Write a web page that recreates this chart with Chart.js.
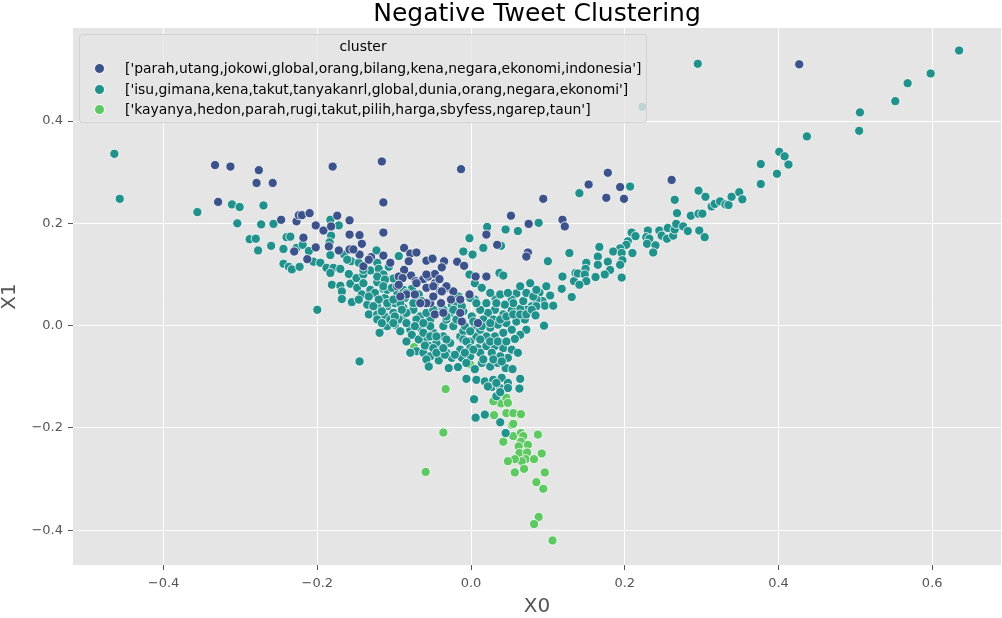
<!DOCTYPE html>
<html>
<head>
<meta charset="utf-8">
<script src="https://cdn.jsdelivr.net/npm/chart.js@4.4.1/dist/chart.umd.min.js"></script>
<style>
  html,body{margin:0;padding:0;background:#fff;}
  #wrap{position:relative;width:1002px;height:618px;}
  #legend{position:absolute;left:79px;top:34px;width:568px;height:89px;box-sizing:border-box;
    background:rgba(229,229,229,0.8);border:1px solid rgba(204,204,204,0.8);border-radius:4px;
    font-family:'DejaVu Sans',sans-serif;font-size:13.9px;color:#000;}
  #legend .ttl{position:absolute;left:0;right:0;top:2px;height:18px;line-height:18px;text-align:center;}
  #legend .row{position:absolute;left:0;height:18px;line-height:18px;white-space:nowrap;}
  #legend .dot{position:absolute;left:14px;top:4px;width:9px;height:9px;border-radius:50%;border:0.8px solid #fff;}
  #legend .txt{position:absolute;left:45px;top:0;}
</style>
</head>
<body>
<div id="wrap">
  <canvas id="c" width="1002" height="618"></canvas>
  <div id="legend"></div>
</div>
<script>
// ---- data ----
const TITLE = 'Negative Tweet Clustering';
const X_LABEL = 'X0';
const Y_LABEL = 'X1';
const LEGEND_TITLE = 'cluster';
const CLUSTERS = [
  "['parah,utang,jokowi,global,orang,bilang,kena,negara,ekonomi,indonesia']",
  "['isu,gimana,kena,takut,tanyakanrl,global,dunia,orang,negara,ekonomi']",
  "['kayanya,hedon,parah,rugi,takut,pilih,harga,sbyfess,ngarep,taun']"
];
const COLORS = ['#3b528b', '#21918c', '#5ec962'];
const X_TICKS = [-0.4, -0.2, 0.0, 0.2, 0.4, 0.6];
const Y_TICKS = [-0.4, -0.2, 0.0, 0.2, 0.4];
const X_RANGE = [-0.5178, 0.6895];
const Y_RANGE = [-0.468, 0.582];

const C0 = [
  [-0.333,0.314],[-0.313,0.311],[-0.276,0.304],[-0.279,0.279],[-0.258,0.279],[-0.329,0.242],[-0.180,0.311],[-0.116,0.321],[-0.114,0.241],[-0.114,0.182],
  [-0.247,0.207],[-0.227,0.204],[-0.224,0.216],[-0.220,0.216],[-0.210,0.220],[-0.202,0.196],[-0.192,0.186],[-0.182,0.194],[-0.174,0.215],[-0.158,0.206],
  [-0.158,0.178],[-0.145,0.177],[-0.142,0.160],[-0.218,0.172],[-0.230,0.145],[-0.202,0.153],[-0.213,0.130],[-0.185,0.155],[-0.172,0.147],[-0.145,0.139],
  [-0.158,0.149],[-0.130,0.134],[-0.140,0.116],[-0.114,0.137],[-0.105,0.123],[-0.153,0.149],[-0.133,0.129],[-0.087,0.152],[-0.079,0.141],[-0.071,0.143],
  [-0.081,0.126],[-0.058,0.127],[-0.050,0.131],[-0.035,0.126],[-0.018,0.125],[-0.009,0.117],[-0.087,0.109],[-0.094,0.096],[-0.078,0.098],[-0.089,0.093],
  [-0.072,0.087],[-0.062,0.091],[-0.056,0.096],[-0.047,0.101],[-0.047,0.083],[-0.038,0.113],[-0.041,0.091],[-0.031,0.074],[-0.023,0.067],[-0.040,0.068],
  [-0.058,0.074],[-0.053,0.044],[-0.039,0.044],[-0.084,0.061],[-0.047,0.022],[-0.036,0.025],[-0.012,0.008],[0.009,0.005],[-0.096,0.077],[0.020,0.096],
  [0.006,0.096],[-0.058,0.100],[-0.032,0.077],[-0.049,0.077],[-0.094,0.080],[-0.071,0.083],[-0.038,0.067],[-0.026,0.051],[-0.014,0.051],[-0.058,0.044],
  [-0.049,0.057],[-0.014,0.025],[-0.002,0.061],[-0.092,0.057],[-0.073,0.061],[-0.066,0.044],[-0.013,0.306],[0.094,0.248],[0.052,0.215],[0.075,0.199],
  [0.119,0.207],[0.122,0.194],[0.020,0.178],[0.034,0.158],[0.074,0.143],[0.072,0.135],[-0.038,0.114],[0.153,0.276],[0.178,0.299],[0.194,0.271],
  [0.176,0.250],[0.199,0.248],[0.261,0.285],[0.427,0.511]
];

const C1 = [
  // left arm
  [-0.464,0.336],[-0.457,0.248],[-0.356,0.222],[-0.311,0.237],[-0.301,0.232],[-0.270,0.235],[-0.304,0.200],[-0.273,0.198],[-0.257,0.199],[-0.288,0.169],
  [-0.280,0.170],[-0.277,0.147],[-0.260,0.156],[-0.240,0.173],[-0.235,0.174],[-0.244,0.150],[-0.227,0.152],[-0.219,0.158],[-0.211,0.146],[-0.244,0.121],
  [-0.237,0.115],[-0.233,0.110],[-0.223,0.115],[-0.205,0.125],[-0.196,0.123],[-0.188,0.113],[-0.200,0.031],[-0.183,0.207],[-0.172,0.196],[-0.182,0.176],
  [-0.184,0.163],[-0.183,0.138],[-0.145,-0.070],[-0.119,-0.014],[-0.111,-0.001],[-0.165,0.139],[-0.156,0.126],[-0.146,0.123],[-0.123,0.147],[-0.122,0.123],
  [-0.107,0.115],[-0.094,0.136],[-0.179,0.113],[-0.170,0.111],[-0.159,0.101],[-0.183,0.103],[-0.181,0.080],[-0.170,0.078],[-0.168,0.067],[-0.168,0.052],
  [-0.157,0.082],[-0.149,0.093],[-0.140,0.100],[-0.131,0.108],[-0.120,0.111],[-0.114,0.100],[-0.101,0.092],[-0.148,0.074],[-0.140,0.083],[-0.131,0.070],
  [-0.122,0.085],[-0.142,0.061],[-0.155,0.046],[-0.146,0.051],[-0.135,0.041],[-0.125,0.064],[-0.114,0.072],[-0.112,0.054],[-0.122,0.038],[-0.133,0.022],
  [-0.122,0.022],[-0.112,0.018],[-0.122,0.012],[-0.109,0.038],[-0.099,0.044],[-0.096,0.064],[-0.086,0.054],[-0.088,0.035],[-0.075,0.031],[-0.077,0.072],
  [-0.068,0.061],[-0.064,0.048],[-0.101,0.025],[-0.088,0.018],[-0.099,0.002],[-0.109,-0.001],[-0.079,-0.008],[-0.066,0.018],[-0.066,-0.004],[-0.053,0.012],
  [-0.040,0.028],[-0.027,0.025],[-0.025,0.041],[-0.016,0.057],[-0.019,0.038],[-0.010,0.028],[0.001,0.018],[0.005,0.051],[-0.001,0.054],[-0.002,0.171],
  [-0.010,0.145],[0.002,0.139],[-0.002,0.100],[0.005,0.083],[-0.058,-0.027],[-0.042,-0.040],[-0.027,-0.034],[-0.014,-0.021],[-0.001,-0.031],[-0.010,-0.011],
  [0.007,-0.021],[-0.077,-0.018],[-0.068,-0.027],[-0.062,-0.014],[-0.049,-0.014],[-0.036,-0.021],[-0.053,-0.001],[-0.036,-0.001],[-0.023,-0.001],[-0.084,-0.031],
  [-0.071,-0.050],[-0.053,-0.040],[-0.014,-0.047],[-0.025,-0.057],
  [-0.161,0.129],[-0.140,0.109],[-0.122,0.096],[-0.112,0.090],[-0.133,0.057],[-0.120,0.051],[-0.109,0.070],[-0.088,0.070],[-0.073,0.048],[-0.092,0.044],
  [-0.084,0.025],[-0.071,0.012],[-0.058,0.025],[-0.049,0.031],[-0.032,0.012],[-0.019,0.012],[-0.008,-0.001],[0.005,-0.001],[-0.010,-0.027],[-0.053,-0.021],
  [-0.045,-0.034],[-0.032,-0.053],[-0.062,-0.053],[-0.079,-0.053],[-0.053,-0.060],[-0.001,-0.057],[-0.116,0.028],[-0.105,0.012],[-0.094,0.012],[-0.084,0.005],
  [-0.073,-0.001],[-0.062,0.005],[-0.116,0.005],[-0.127,0.038],[-0.032,0.018],[-0.099,0.018],[-0.090,0.031],[-0.036,0.031],[-0.023,0.031],[-0.012,0.038],
  [-0.109,0.044],[-0.101,0.051],[-0.114,0.077],[-0.103,0.074],[-0.084,0.064],[-0.075,0.044],
  // centre
  [0.037,0.103],[0.042,0.098],[0.059,0.063],[0.053,0.051],[0.032,0.052],[0.098,0.077],[0.089,0.065],[0.103,0.059],[0.119,0.096],[0.118,0.072],
  [0.131,0.056],[0.136,0.103],[0.134,0.087],[0.093,0.048],[0.085,0.044],[0.079,0.038],[0.096,0.039],[0.107,0.039],[0.072,0.031],[0.064,0.033],
  [0.053,0.030],[0.042,0.022],[0.031,0.031],[0.022,0.025],[0.029,0.012],[0.016,0.012],[0.003,0.008],[-0.001,-0.011],[0.012,-0.008],[0.025,-0.004],
  [0.035,0.002],[0.046,0.005],[0.059,0.008],[0.070,0.012],[0.072,-0.008],[0.095,0.000],[0.064,-0.018],[0.057,-0.026],[0.053,-0.008],[0.042,-0.014],
  [0.031,-0.021],[0.020,-0.021],[-0.006,-0.031],[-0.032,-0.027],[-0.045,-0.021],[-0.092,-0.011],[-0.101,0.005],[-0.060,-0.039],[-0.049,-0.044],[-0.001,-0.044],
  [0.009,-0.044],[0.020,-0.040],[0.031,-0.040],[0.042,-0.044],[0.053,-0.047],[0.048,-0.063],[0.061,-0.053],[0.038,-0.060],[0.027,-0.053],[0.012,-0.053],
  [-0.001,-0.060],[-0.012,-0.063],[-0.025,-0.063],[-0.058,-0.066],[-0.055,-0.080],[-0.042,-0.068],[-0.029,-0.083],[-0.017,-0.081],[-0.006,-0.073],[0.005,-0.085],
  [0.014,-0.073],[0.025,-0.080],[0.035,-0.073],[0.045,-0.083],[0.054,-0.085],[-0.006,-0.104],[0.007,-0.106],[0.018,-0.109],[0.029,-0.106],[0.040,-0.102],
  [0.048,-0.112],[0.064,-0.104],[0.027,-0.120],[0.038,-0.122],[0.048,-0.122],[0.063,-0.123],[0.004,-0.144],[0.033,-0.138],[0.006,-0.180],[0.018,-0.174],
  [0.022,-0.119],[0.033,-0.112],[0.038,-0.130],[0.038,-0.189],[0.045,-0.210],[0.021,0.193],[0.045,0.188],[0.061,0.185],[0.088,0.201],[0.016,0.152],
  [0.039,0.156],[-0.051,0.132],
  [0.012,-0.027],[0.025,-0.031],[0.035,-0.031],[0.046,-0.031],[0.016,-0.066],[0.029,-0.066],[0.040,-0.070],[0.003,-0.047],[-0.008,-0.053],[-0.021,-0.057],
  [-0.034,-0.057],[-0.045,-0.053],[-0.036,-0.044],[0.014,-0.001],[0.025,0.005],[0.038,0.012],[0.046,0.018],[0.055,0.022],[0.064,0.022],[0.072,0.022],
  [0.081,0.031],[0.085,0.051],[0.068,0.048],[0.055,0.044],[0.044,0.041],[0.033,0.044],[0.038,0.061],[0.048,0.064],[0.072,0.064],[0.081,0.057],
  [0.064,0.077],[0.077,0.083],[0.085,0.070],[0.012,0.031],[0.007,0.044],[0.020,0.044],[0.025,0.064],[0.014,0.074],
  // right arm
  [0.141,0.259],[0.207,0.272],[0.100,0.126],[0.128,0.142],[0.167,0.154],[0.209,0.182],[0.214,0.175],[0.230,0.186],[0.228,0.173],[0.232,0.170],
  [0.229,0.160],[0.240,0.157],[0.237,0.143],[0.245,0.186],[0.248,0.176],[0.255,0.170],[0.256,0.191],[0.263,0.176],[0.265,0.188],[0.267,0.199],
  [0.276,0.194],[0.282,0.185],[0.297,0.186],[0.304,0.173],[0.286,0.215],[0.296,0.219],[0.301,0.219],[0.268,0.220],[0.265,0.246],[0.296,0.264],
  [0.305,0.252],[0.313,0.233],[0.317,0.238],[0.324,0.243],[0.331,0.237],[0.335,0.236],[0.339,0.252],[0.349,0.261],[0.353,0.247],[0.377,0.316],
  [0.377,0.277],[0.398,0.297],[0.401,0.340],[0.408,0.331],[0.413,0.315],[0.437,0.370],[0.295,0.512],[0.506,0.417],[0.505,0.381],[0.552,0.439],
  [0.568,0.474],[0.598,0.493],[0.635,0.538],[0.223,0.428],[0.204,0.165],[0.202,0.158],[0.194,0.151],[0.185,0.145],[0.196,0.142],[0.210,0.142],
  [0.165,0.135],[0.178,0.125],[0.197,0.128],[0.194,0.119],[0.165,0.119],[0.181,0.109],[0.174,0.100],[0.162,0.095],[0.196,0.094],[0.150,0.123],
  [0.149,0.111],[0.139,0.102],[0.148,0.100],[0.150,0.087],[0.141,0.080],[0.085,0.038],[0.079,0.031],[0.084,0.020]
];

const C2 = [
  [-0.033,-0.124],[-0.036,-0.209],[-0.059,-0.286],[0.030,-0.175],[0.039,-0.152],[0.046,-0.141],[0.048,-0.151],[0.046,-0.171],[0.055,-0.171],[0.065,-0.173],
  [0.053,-0.194],[0.055,-0.192],[0.042,-0.227],[0.055,-0.216],[0.065,-0.210],[0.068,-0.216],[0.065,-0.227],[0.074,-0.233],[0.087,-0.213],[0.062,-0.236],
  [0.063,-0.249],[0.073,-0.248],[0.071,-0.261],[0.066,-0.265],[0.057,-0.261],[0.048,-0.265],[0.082,-0.261],[0.092,-0.250],[0.069,-0.280],[0.057,-0.287],
  [0.096,-0.287],[0.085,-0.306],[0.094,-0.319],[0.088,-0.374],[0.082,-0.388],[0.106,-0.420],[-0.074,-0.042],[0.029,-0.148],[-0.001,-0.076]
];

const SERIES = [C0, C1, C2];

// ---- legend (html, sits over the plot like the matplotlib one) ----
const lg = document.getElementById('legend');
lg.innerHTML = '<div class="ttl">' + LEGEND_TITLE + '</div>' +
  CLUSTERS.map((name, i) => `<div class="row" style="top:${24 + i*20.5}px"><span class="dot" style="background:${COLORS[i]}"></span><span class="txt">${name}</span></div>`).join('');

// ---- plugins ----
const plotBg = {
  id: 'plotBg',
  beforeDraw(chart){
    const {ctx, chartArea:a} = chart;
    ctx.save();
    ctx.fillStyle = '#e5e5e5';
    ctx.fillRect(a.left, a.top, a.right - a.left, a.bottom - a.top);
    ctx.restore();
  }
};
const titleText = {
  id: 'titleText',
  afterDraw(chart){
    const {ctx, chartArea:a} = chart;
    ctx.save();
    ctx.fillStyle = '#000';
    ctx.font = '25px "DejaVu Sans"';
    ctx.textAlign = 'center';
    ctx.textBaseline = 'alphabetic';
    ctx.fillText(TITLE, (a.left + a.right) / 2, 20.5);
    ctx.restore();
  }
};

const fmt = v => (v < 0 ? '\u2212' : '') + Math.abs(v).toFixed(1);
const tickFont = {family:'DejaVu Sans', size:13};

new Chart(document.getElementById('c'), {
  type: 'scatter',
  data: {
    datasets: SERIES.map((pts, i) => ({
      label: CLUSTERS[i],
      data: pts.map(p => ({x:p[0], y:p[1]})),
      backgroundColor: COLORS[i],
      borderColor: '#ffffff',
      borderWidth: 0.8,
      pointRadius: 4.6,
      pointHoverRadius: 4.6
    }))
  },
  options: {
    responsive: false,
    animation: false,
    events: [],
    layout: {autoPadding: false, padding: {top: 28, right: 1, left: 0, bottom: 0}},
    plugins: {legend: {display: false}, tooltip: {enabled: false}, title: {display: false}},
    scales: {
      x: {
        type: 'linear', min: X_RANGE[0], max: X_RANGE[1],
        afterBuildTicks: s => { s.ticks = X_TICKS.map(v => ({value: v})); },
        afterFit: s => { s.height = 53; },
        grid: {color: '#ffffff', lineWidth: 1, tickColor: '#555555', tickLength: 5, tickWidth: 1},
        border: {display: false},
        ticks: {color: '#555555', font: tickFont, padding: 5.5, callback: fmt, maxRotation: 0},
        title: {display: true, text: X_LABEL, color: '#555555', font: {family:'DejaVu Sans', size: 20, lineHeight: 1.1}, padding: 0}
      },
      y: {
        type: 'linear', min: Y_RANGE[0], max: Y_RANGE[1],
        afterBuildTicks: s => { s.ticks = Y_TICKS.map(v => ({value: v})); },
        afterFit: s => { s.width = 73; },
        grid: {color: '#ffffff', lineWidth: 1, tickColor: '#555555', tickLength: 5, tickWidth: 1},
        border: {display: false},
        ticks: {color: '#555555', font: tickFont, padding: 5, callback: fmt},
        title: {display: true, text: Y_LABEL, color: '#555555', font: {family:'DejaVu Sans', size: 20, lineHeight: 1.0}, padding: 0}
      }
    }
  },
  plugins: [plotBg, titleText]
});
</script>
</body>
</html>
